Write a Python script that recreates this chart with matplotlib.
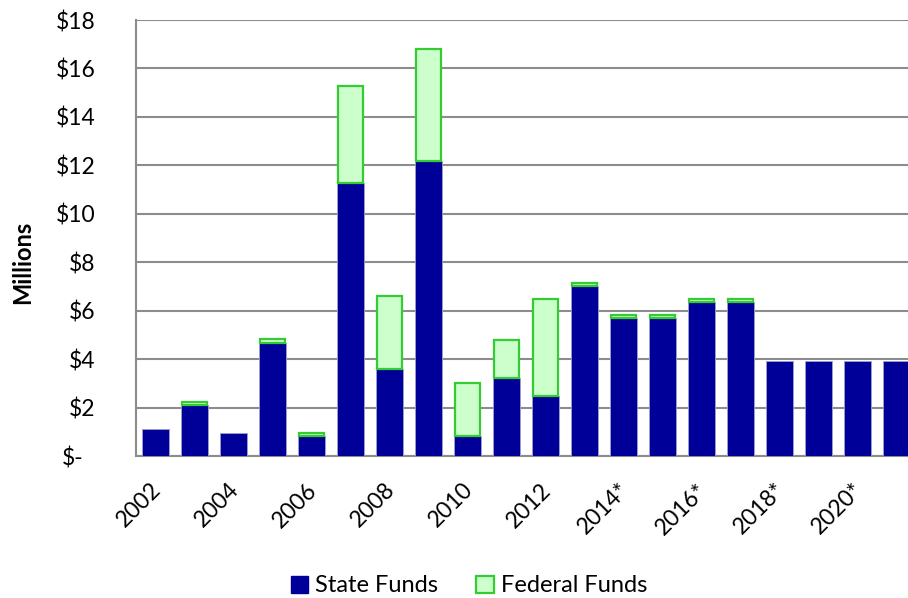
import matplotlib
matplotlib.use("Agg")
import matplotlib.pyplot as plt
import matplotlib.transforms as mtransforms
from matplotlib.patches import Patch
import numpy as np

plt.rcParams['font.family'] = ['Lato', 'DejaVu Sans']

years = ["2002", "2003", "2004", "2005", "2006", "2007", "2008", "2009", "2010",
         "2011", "2012", "2013", "2014*", "2015*", "2016*", "2017*", "2018*",
         "2019*", "2020*", "2021*"]
state_funds = [1.10, 2.10, 0.94, 4.65, 0.84, 11.27, 3.58, 12.19, 0.84, 3.21,
               2.48, 7.00, 5.68, 5.68, 6.36, 6.36, 3.93, 3.93, 3.93, 3.93]
federal_funds = [0.0, 0.15, 0.0, 0.20, 0.10, 4.02, 3.03, 4.60, 2.16, 1.58,
                 4.02, 0.16, 0.15, 0.15, 0.11, 0.11, 0.0, 0.0, 0.0, 0.0]
ytick_values = [0, 2, 4, 6, 8, 10, 12, 14, 16, 18]
ytick_labels = ["$-", "$2", "$4", "$6", "$8", "$10", "$12", "$14", "$16", "$18"]

W, H = 908, 598
fig = plt.figure(figsize=(W / 100, H / 100), dpi=100)
ax = fig.add_axes([136 / W, 1 - 456 / H, 780 / W, 436 / H])

x = np.arange(len(years))
state_color = "#000099"
fed_face = "#ccffcc"
fed_edge = "#33cc33"
bw = 0.69

ax.bar(x, state_funds, width=bw, color=state_color, edgecolor="#a0a0d0",
       linewidth=0.6, zorder=3)
fed = np.array(federal_funds)
mask = fed > 0
ax.bar(x[mask], fed[mask], width=bw - 0.04, bottom=np.array(state_funds)[mask],
       color=fed_face, edgecolor=fed_edge, linewidth=1.6, zorder=3)

ax.set_xlim(-0.5, len(years) - 0.5)
ax.set_ylim(0, 18)
ax.tick_params(axis="y", length=0, pad=29)
ax.tick_params(axis="x", length=0, pad=22)
ax.set_yticks(ytick_values)
ax.set_yticklabels(ytick_labels, fontsize=16.5)
ax.yaxis.grid(True, color="#8c8c8c", linewidth=1.5, zorder=0)
ax.set_axisbelow(True)
for s in ["top", "right"]:
    ax.spines[s].set_visible(False)
for s in ["left", "bottom"]:
    ax.spines[s].set_color("#8c8c8c")
    ax.spines[s].set_linewidth(1.5)

ax.set_xticks(x[::2])
ax.set_xticklabels(years[::2], fontsize=16.5, rotation=45, ha="right",
                   va="center", rotation_mode="anchor")
offset = mtransforms.ScaledTranslation(2 / 100, 0, fig.dpi_scale_trans)
for lbl in ax.get_xticklabels():
    lbl.set_transform(lbl.get_transform() + offset)

fig.text(23 / W, 1 - 262 / H, "Millions", rotation=90, fontsize=17,
         fontweight="bold", ha="center", va="center")

handles = [Patch(facecolor=state_color, edgecolor=state_color, label="State Funds"),
           Patch(facecolor=fed_face, edgecolor=fed_edge, linewidth=1.6,
                 label="Federal Funds")]
fig.legend(handles=handles, loc="center", bbox_to_anchor=(469 / W, 1 - 586 / H),
           ncol=2, frameon=False, fontsize=17, handlelength=0.75,
           handleheight=0.75, handletextpad=0.3, columnspacing=1.6)

# accounting-style zero label sits a little left of the others
fig.canvas.draw()
for tick in ax.yaxis.get_major_ticks():
    if tick.label1.get_text() == "$-":
        tick.label1.set_x(-12 / 780)

fig.savefig("out.png", dpi=100)
